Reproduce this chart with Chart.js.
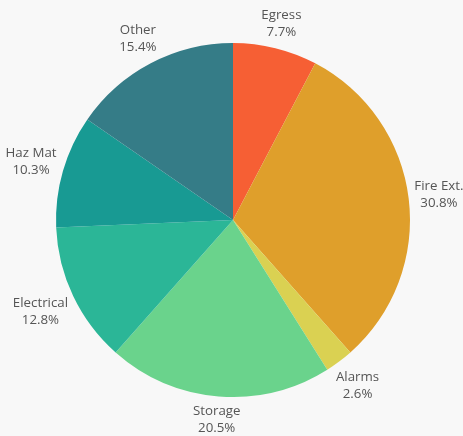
<!DOCTYPE html>
<html>
<head>
<meta charset="utf-8">
<script src="https://cdn.jsdelivr.net/npm/chart.js@4/dist/chart.umd.min.js"></script>
<style>
    html, body { margin: 0; padding: 0; background: #f8f8f8; }
    #wrap { width: 463px; height: 436px; position: relative; }
</style>
</head>
<body>
<div id="wrap"><canvas id="pieChart"></canvas></div>
<script>
// Data (percent of findings)
const categories = ['Egress', 'Fire Ext.', 'Alarms', 'Storage', 'Electrical', 'Haz Mat', 'Other'];
const percents = [7.7, 30.8, 2.6, 20.5, 12.8, 10.3, 15.4];
const sliceColors = ['#f65f34', '#df9f2b', '#dad152', '#6ad38c', '#2bb697', '#189a93', '#357c87'];

// Draws "label / pct" outside each slice, pushed out so the text box clears the edge
const outLabels = {
    id: 'outLabels',
    afterDatasetsDraw(chart) {
        const ctx = chart.ctx;
        const meta = chart.getDatasetMeta(0);
        const lineH = 17;
        const gap = 4;
        ctx.save();
        ctx.font = '13.3px "Open Sans", sans-serif';
        ctx.fillStyle = '#555';
        ctx.textAlign = 'center';
        ctx.textBaseline = 'middle';
        meta.data.forEach((arc, i) => {
            const p = arc.getProps(['x', 'y', 'startAngle', 'endAngle', 'outerRadius'], true);
            const mid = (p.startAngle + p.endAngle) / 2;
            const lines = [categories[i], percents[i].toFixed(1) + '%'];
            const w = Math.max(...lines.map(t => ctx.measureText(t).width));
            const h = lines.length * lineH;
            const cos = Math.cos(mid), sin = Math.sin(mid);
            const d = Math.abs(cos) * w / 2 + Math.abs(sin) * h / 2;
            const r = p.outerRadius + gap + d;
            const cx = p.x + cos * r;
            const cy = p.y + sin * r;
            lines.forEach((t, k) => {
                ctx.fillText(t, cx, cy - h / 2 + lineH * (k + 0.5));
            });
        });
        ctx.restore();
    }
};

const pieChart = new Chart(document.getElementById('pieChart').getContext('2d'), {
    type: 'pie',
    data: {
        labels: categories,
        datasets: [{
            data: percents,
            backgroundColor: sliceColors,
            borderWidth: 0
        }]
    },
    options: {
        responsive: true,
        maintainAspectRatio: false,
        animation: false,
        layout: { padding: { left: 56, right: 53, top: 43, bottom: 39 } },
        plugins: {
            legend: { display: false },
            tooltip: { enabled: false }
        }
    },
    plugins: [outLabels]
});
</script>
</body>
</html>
